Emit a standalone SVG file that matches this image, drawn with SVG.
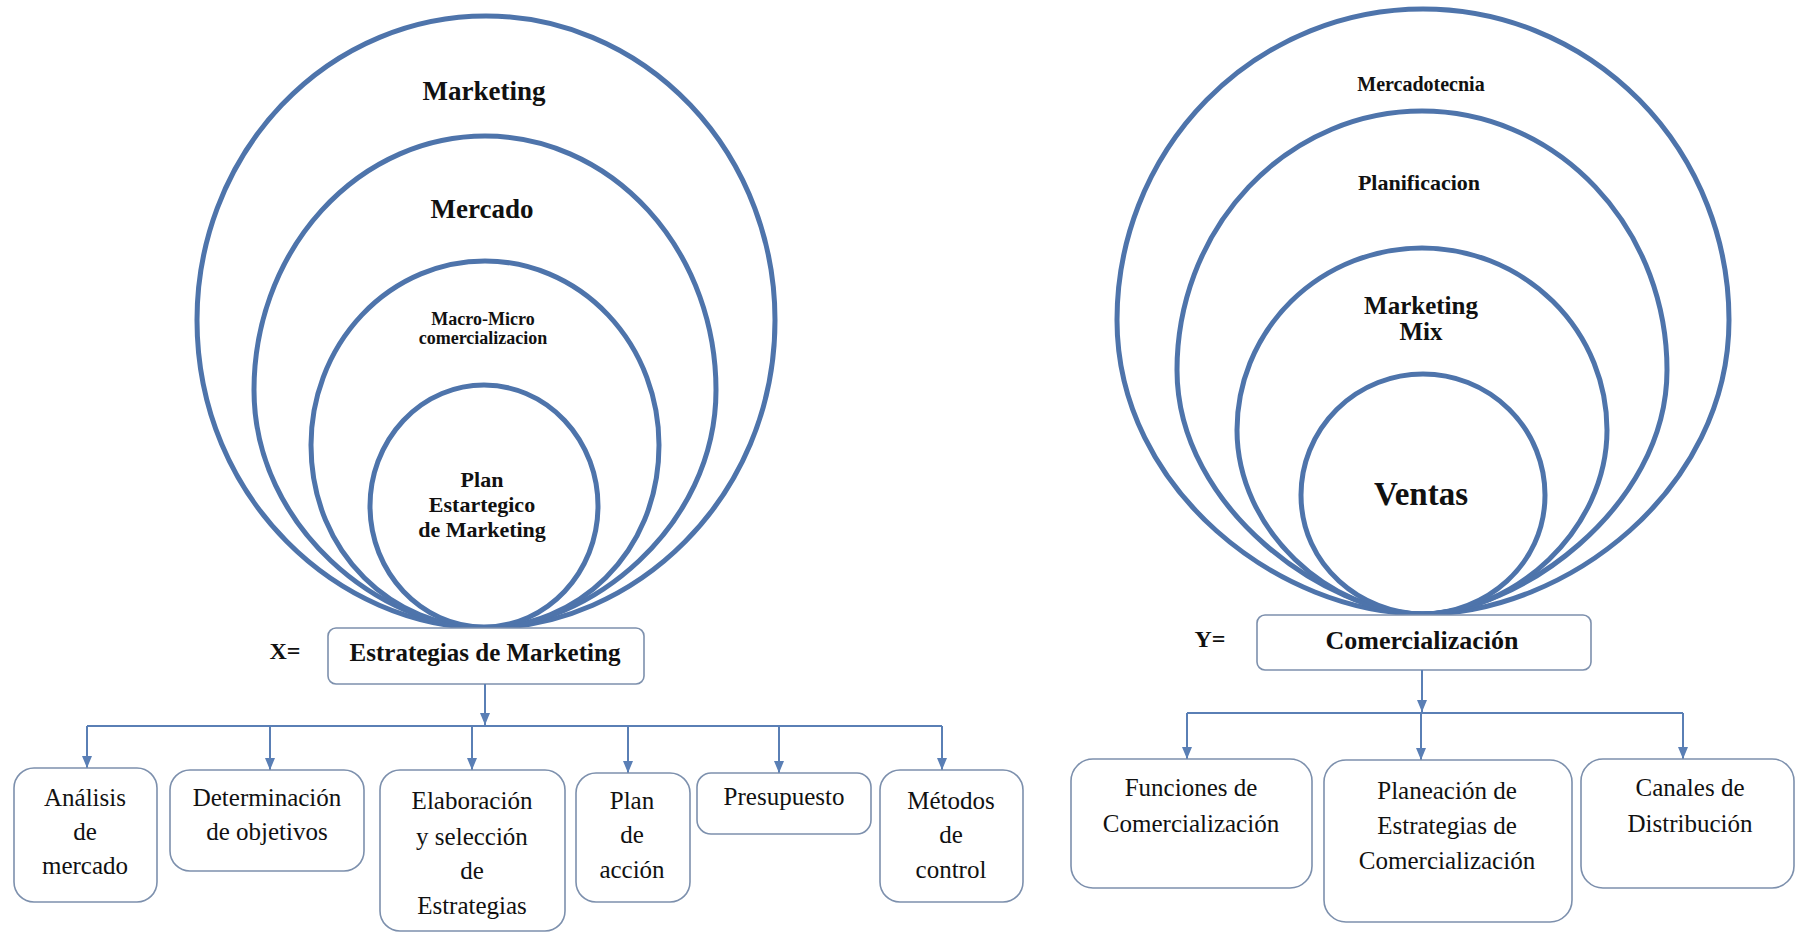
<svg xmlns="http://www.w3.org/2000/svg" width="1797" height="934" viewBox="0 0 1797 934">
<style>
.ring{fill:none;stroke:#4e74ab;stroke-width:5}
.box{fill:#fff;stroke:#7d90ad;stroke-width:1.6}
.lbl{font-family:"Liberation Serif","Times New Roman",serif;font-weight:bold;fill:#111;text-anchor:middle}
.txt{font-family:"Liberation Serif","Times New Roman",serif;fill:#111;text-anchor:middle;font-size:25px}
.conn{fill:none;stroke:#5a7fb5;stroke-width:2}
</style>
<defs>
<marker id="ah" markerUnits="userSpaceOnUse" markerWidth="12" markerHeight="12" viewBox="0 0 12 12" refX="12" refY="6" orient="auto">
<path d="M0,1 L12,6 L0,11 z" fill="#5a7fb5"/>
</marker>
</defs>
<rect width="1797" height="934" fill="#fff"/>

<g id="left-rings">
<path class="ring" d="M486,16 A289,304 0 0 0 197,320 C197,500 340,628 486,628 C632,628 775,500 775,320 A289,304 0 0 0 486,16 Z"/>
<path class="ring" d="M485,136 A231,254 0 0 0 254,390 C254,528 382,628 485,628 C588,628 716,528 716,390 A231,254 0 0 0 485,136 Z"/>
<path class="ring" d="M485,261 A174,184 0 0 0 311,445 C311,555 395,628 485,628 C575,628 659,555 659,445 A174,184 0 0 0 485,261 Z"/>
<path class="ring" d="M484,385 A114,121 0 0 0 370,506 C370,572.5 421.3,627 484,627 C546.7,627 598,572.5 598,506 A114,121 0 0 0 484,385 Z"/>
<text class="lbl" x="484" y="100" font-size="27">Marketing</text>
<text class="lbl" x="482" y="218" font-size="27">Mercado</text>
<text class="lbl" x="483" y="325" font-size="18">Macro-Micro</text>
<text class="lbl" x="483" y="344" font-size="18">comercializacion</text>
<text class="lbl" x="482" y="487" font-size="22">Plan</text>
<text class="lbl" x="482" y="512" font-size="22">Estartegico</text>
<text class="lbl" x="482" y="537" font-size="22">de Marketing</text>
</g>

<g id="right-rings">
<path class="ring" d="M1423,9 A306,311 0 0 0 1117,320 C1117,490 1280,614 1423,614 C1566,614 1729,490 1729,320 A306,311 0 0 0 1423,9 Z"/>
<path class="ring" d="M1422,111 A245,259 0 0 0 1177,370 C1177,510 1330,614 1422,614 C1514,614 1667,510 1667,370 A245,259 0 0 0 1422,111 Z"/>
<path class="ring" d="M1422,248 A185,182 0 0 0 1237,430 C1237,530 1330,614 1422,614 C1514,614 1607,530 1607,430 A185,182 0 0 0 1422,248 Z"/>
<path class="ring" d="M1423,374 A122,121 0 0 0 1301,495 C1301,566 1362,614 1423,614 C1484,614 1545,566 1545,495 A122,121 0 0 0 1423,374 Z"/>
<text class="lbl" x="1421" y="91" font-size="20">Mercadotecnia</text>
<text class="lbl" x="1419" y="190" font-size="22">Planificacion</text>
<text class="lbl" x="1421" y="314" font-size="25">Marketing</text>
<text class="lbl" x="1421" y="340" font-size="25">Mix</text>
<text class="lbl" x="1421" y="505" font-size="33">Ventas</text>
</g>

<g id="x-label"><text class="lbl" x="285" y="659" font-size="24">X=</text></g>
<g id="node-estrategias">
<rect class="box" x="328" y="628" width="316" height="56" rx="8"/>
<text class="lbl" x="485" y="661" font-size="25">Estrategias de Marketing</text>
</g>

<g id="y-label"><text class="lbl" x="1210" y="647" font-size="24">Y=</text></g>
<g id="node-comercializacion">
<rect class="box" x="1257" y="615" width="334" height="55" rx="8"/>
<text class="lbl" x="1422" y="649" font-size="26">Comercialización</text>
</g>

<g id="connectors">
<path class="conn" d="M485,684 V725" marker-end="url(#ah)"/>
<path class="conn" d="M87,726 H942"/>
<path class="conn" d="M87,726 V768" marker-end="url(#ah)"/>
<path class="conn" d="M270,726 V770" marker-end="url(#ah)"/>
<path class="conn" d="M472,726 V770" marker-end="url(#ah)"/>
<path class="conn" d="M628,726 V773" marker-end="url(#ah)"/>
<path class="conn" d="M779,726 V773" marker-end="url(#ah)"/>
<path class="conn" d="M942,726 V770" marker-end="url(#ah)"/>
<path class="conn" d="M1422,670 V712" marker-end="url(#ah)"/>
<path class="conn" d="M1187,713 H1683"/>
<path class="conn" d="M1187,713 V759" marker-end="url(#ah)"/>
<path class="conn" d="M1421,713 V760" marker-end="url(#ah)"/>
<path class="conn" d="M1683,713 V759" marker-end="url(#ah)"/>
</g>

<g id="node-analisis">
<rect class="box" x="14" y="768" width="143" height="134" rx="20"/>
<text class="txt" x="85" y="806">Análisis</text>
<text class="txt" x="85" y="840">de</text>
<text class="txt" x="85" y="874">mercado</text>
</g>
<g id="node-determinacion">
<rect class="box" x="170" y="770" width="194" height="101" rx="20"/>
<text class="txt" x="267" y="806">Determinación</text>
<text class="txt" x="267" y="840">de objetivos</text>
</g>
<g id="node-elaboracion">
<rect class="box" x="380" y="770" width="185" height="161" rx="20"/>
<text class="txt" x="472" y="809">Elaboración</text>
<text class="txt" x="472" y="845">y selección</text>
<text class="txt" x="472" y="879">de</text>
<text class="txt" x="472" y="914">Estrategias</text>
</g>
<g id="node-plan">
<rect class="box" x="576" y="773" width="114" height="129" rx="20"/>
<text class="txt" x="632" y="809">Plan</text>
<text class="txt" x="632" y="843">de</text>
<text class="txt" x="632" y="878">acción</text>
</g>
<g id="node-presupuesto">
<rect class="box" x="697" y="773" width="174" height="61" rx="14"/>
<text class="txt" x="784" y="805">Presupuesto</text>
</g>
<g id="node-metodos">
<rect class="box" x="880" y="770" width="143" height="132" rx="20"/>
<text class="txt" x="951" y="809">Métodos</text>
<text class="txt" x="951" y="843">de</text>
<text class="txt" x="951" y="878">control</text>
</g>

<g id="node-funciones">
<rect class="box" x="1071" y="759" width="241" height="129" rx="22"/>
<text class="txt" x="1191" y="796" font-size="26">Funciones de</text>
<text class="txt" x="1191" y="832" font-size="26">Comercialización</text>
</g>
<g id="node-planeacion">
<rect class="box" x="1324" y="760" width="248" height="162" rx="22"/>
<text class="txt" x="1447" y="799" font-size="26">Planeación de</text>
<text class="txt" x="1447" y="834" font-size="26">Estrategias de</text>
<text class="txt" x="1447" y="869" font-size="26">Comercialización</text>
</g>
<g id="node-canales">
<rect class="box" x="1581" y="759" width="213" height="129" rx="22"/>
<text class="txt" x="1690" y="796" font-size="26">Canales de</text>
<text class="txt" x="1690" y="832" font-size="26">Distribución</text>
</g>
</svg>
